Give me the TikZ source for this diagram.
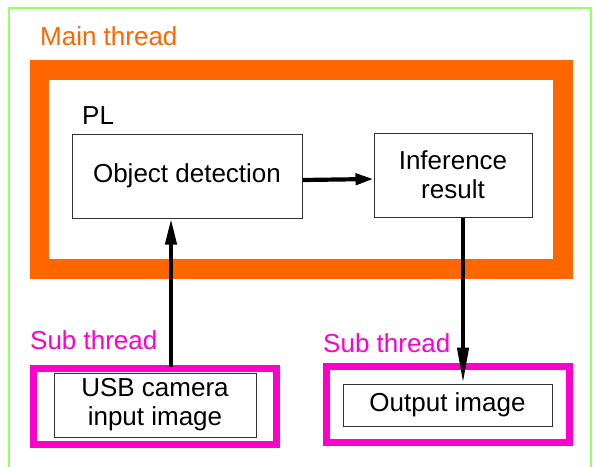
\documentclass[tikz,border=0pt]{standalone}
\usepackage{fontspec}
\setmainfont{Liberation Sans}
\usetikzlibrary{arrows.meta}
\definecolor{mainorange}{HTML}{FF6600}
\definecolor{submagenta}{HTML}{FF00CC}
\definecolor{outergreen}{HTML}{99FF66}
\definecolor{boxgray}{HTML}{333333}
\tikzset{
  lbl/.style={font=\fontsize{26}{29}\selectfont, inner sep=0pt, anchor=base west},
  procbox/.style={draw=boxgray, line width=1pt, fill=white, inner sep=0pt,
    align=center, font=\fontsize{26}{29}\selectfont},
  frame/.style={draw, inner sep=0pt, outer sep=0pt},
  flow/.style={line width=4.2pt, draw=black, line cap=butt},
  flowtip/.style={-{Triangle[length=#1, width=11pt]}}
}
\begin{document}
\begin{tikzpicture}[x=1pt, y=-1pt]
  \useasboundingbox (0,0) rectangle (593,466);
  \clip (0,0) rectangle (593,466);
  % outer boundary
  \draw[outergreen, line width=1.6pt] (9,8) rectangle (591,480);
  % main thread
  \node[lbl, text=mainorange] (mainlbl) at (40,45) {Main thread};
  \node[frame, draw=mainorange, line width=19.5pt, minimum width=523.5pt,
        minimum height=199pt] (plframe) at (301.25,169.5) {};
  \node[lbl] (pl) at (82,124) {PL};
  \node[procbox, minimum width=230pt, minimum height=84pt] (obj) at (187,176) {Object detection};
  \node[procbox, minimum width=158pt, minimum height=84pt] (inf) at (453,175) {Inference\\result};
  % sub threads
  \node[lbl, text=submagenta] (sublblL) at (30,349) {Sub thread};
  \node[frame, draw=submagenta, line width=7pt, minimum width=242.5pt,
        minimum height=76pt] (subL) at (154.75,406) {};
  \node[procbox, minimum width=202pt, minimum height=64pt] (usb) at (155,405) {USB camera\\input image};
  \node[lbl, text=submagenta] (sublblR) at (323,352) {Sub thread};
  \node[frame, draw=submagenta, line width=7pt, minimum width=243pt,
        minimum height=76pt] (subR) at (447.5,404.5) {};
  \node[procbox, minimum width=209pt, minimum height=42pt] (out) at (447.5,405) {Output image};
  % connectors
  \coordinate (camx) at (171,0);
  \coordinate (resx) at (463,0);
  \draw[flow, flowtip=26pt] ([yshift=1.5pt]subL.north -| camx) -- (obj.south -| camx);
  \draw[flow, flowtip=18pt] ([yshift=-4pt]obj.east) -- ([yshift=-4pt]inf.west);
  \draw[flow, flowtip=36pt] (inf.south -| resx) -- (out.north -| resx);
\end{tikzpicture}
\end{document}
